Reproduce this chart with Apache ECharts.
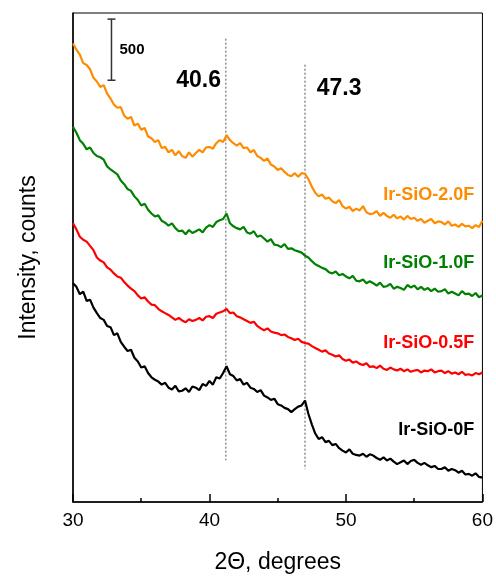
<!DOCTYPE html>
<html>
<head>
<meta charset="utf-8">
<script src="https://cdn.jsdelivr.net/npm/echarts@6/dist/echarts.min.js"></script>
<style>
  html, body { margin: 0; padding: 0; background: #fff; }
  #chart { width: 496px; height: 579px; }
</style>
</head>
<body>
<div id="chart"></div>
<script>
// XRD patterns of Ir-SiO samples, 2θ = 30–60°, sampled every 0.25°
const angleStart = 30;
const angleStep = 0.25;

const sampleNames = ['Ir-SiO-2.0F', 'Ir-SiO-1.0F', 'Ir-SiO-0.5F', 'Ir-SiO-0F'];

// Intensity (counts, stacked with vertical offsets)
const ir20F = [
  3750, 3700, 3660, 3590, 3575, 3540, 3470, 3440, 3395, 3410, 3340, 3300,
  3250, 3225, 3230, 3160, 3135, 3150, 3080, 3095, 3045, 3060, 2990, 2975,
  2945, 2960, 2895, 2905, 2860, 2880, 2835, 2870, 2830, 2815, 2860, 2825,
  2855, 2880, 2860, 2900, 2905, 2890, 2935, 2960, 2945, 3000, 2960, 2935,
  2915, 2935, 2895, 2900, 2860, 2880, 2830, 2815, 2790, 2810, 2760, 2745,
  2715, 2730, 2700, 2675, 2665, 2690, 2660, 2690, 2685, 2640, 2580, 2530,
  2500, 2515, 2480, 2490, 2460, 2445, 2470, 2420, 2400, 2415, 2380, 2400,
  2385, 2420, 2370, 2355, 2360, 2380, 2340, 2365, 2340, 2325, 2350, 2320,
  2335, 2310, 2340, 2315, 2325, 2300, 2315, 2285, 2300, 2315, 2280, 2295,
  2290, 2270, 2295, 2260, 2270, 2250, 2275, 2255, 2260, 2240, 2265, 2250,
  2300
];
const ir10F = [
  3070, 3020, 2960, 2930, 2885, 2900, 2855, 2830, 2820, 2800, 2745, 2720,
  2700, 2680, 2630, 2600, 2560, 2545, 2500, 2470, 2425, 2440, 2390, 2360,
  2335, 2345, 2300, 2285, 2260, 2280, 2240, 2215, 2220, 2190, 2225, 2200,
  2215, 2230, 2205, 2245, 2265, 2250, 2290, 2305, 2315, 2360, 2280, 2255,
  2240, 2230, 2250, 2205, 2195, 2215, 2170, 2180, 2155, 2130, 2150, 2105,
  2100, 2085, 2110, 2070, 2075, 2060, 2050, 2040, 2015, 2000, 1970, 1945,
  1930, 1915, 1905, 1880, 1870, 1885, 1855, 1865, 1845, 1830, 1850, 1810,
  1805, 1820, 1790, 1805, 1790, 1770, 1795, 1760, 1765, 1785, 1745, 1760,
  1750, 1735, 1775, 1755, 1770, 1740, 1760, 1735, 1750, 1725, 1745, 1720,
  1725, 1740, 1705, 1720, 1705, 1690, 1725, 1700, 1705, 1685, 1710, 1675,
  1690
];
const ir05F = [
  2280, 2230, 2170, 2145, 2130, 2095, 2060, 2000, 1975, 1960, 1920, 1900,
  1870, 1845, 1835, 1800, 1770, 1745, 1725, 1690, 1665, 1675, 1640, 1615,
  1610, 1580, 1560, 1545, 1530, 1510, 1490, 1505, 1485, 1470, 1495, 1480,
  1490, 1505, 1485, 1515, 1520, 1505, 1540, 1550, 1560, 1580, 1545, 1550,
  1520, 1510, 1495, 1480, 1465, 1475, 1440, 1420, 1405, 1420, 1395, 1385,
  1380, 1365, 1370, 1350, 1340, 1325, 1335, 1310, 1300, 1295, 1275, 1260,
  1245, 1230, 1240, 1215, 1205, 1190, 1200, 1170, 1155, 1165, 1140, 1150,
  1130, 1120, 1135, 1105, 1110, 1095, 1115, 1090, 1080, 1100, 1085, 1075,
  1090, 1070, 1085, 1065, 1075, 1080, 1060, 1075, 1070, 1085, 1060, 1070,
  1075, 1055, 1070, 1050, 1060, 1045, 1065, 1040, 1045, 1035, 1055, 1045,
  1060
];
const ir0F = [
  1790, 1760, 1700, 1720, 1645, 1655, 1590, 1545, 1505, 1490, 1440, 1430,
  1365, 1380, 1310, 1270, 1235, 1245, 1180, 1150, 1100, 1110, 1055, 1020,
  1000, 985, 960, 975, 935, 920, 950, 905, 910, 930, 900, 945,
  935, 915, 965, 950, 990, 960, 1020, 1010, 1055, 1110, 1045, 1030,
  995, 1005, 960, 975, 935, 925, 900, 915, 870, 855, 835, 845,
  800, 790, 770, 760, 735, 760, 780, 790, 830, 720, 635, 560,
  515, 530, 490, 500, 465, 475, 440, 420, 405, 430, 395, 385,
  380, 395, 370, 390, 380, 360, 345, 365, 340, 355, 330, 310,
  325, 340, 310, 335, 345, 320, 305, 320, 300, 285, 295, 270,
  270, 285, 255, 270, 260, 240, 255, 225, 230, 215, 235, 205,
  200
];

const sampleColors = ['#FF8C00', '#008000', '#FF0000', '#000000'];
const sampleSeries = [ir20F, ir10F, ir05F, ir0F];
// label anchors: [right edge 2θ, intensity]
const sampleLabelPos = [[59.4, 2512], [59.4, 1951], [59.4, 1301], [59.4, 585]];

// Reference lines: drawn position, span, and printed peak value
const peakLines = [
  { x: 41.2, top: 3790, bottom: 341, text: '40.6', textAt: [39.2, 3450] },
  { x: 47.0, top: 3577, bottom: 268, text: '47.3', textAt: [49.5, 3380] }
];

// 500-count scale bar
const scaleBar = { x: 32.82, top: 3950, size: 500 };

const yMax = 4000;

function toPairs(values) {
  return values.map((v, i) => [angleStart + i * angleStep, v]);
}

const series = sampleSeries.map((vals, i) => ({
  name: sampleNames[i],
  type: 'line',
  data: toPairs(vals),
  showSymbol: false,
  symbol: 'none',
  lineStyle: { color: sampleColors[i], width: 2.2 },
  z: 3,
  animation: false
}));

peakLines.forEach(p => {
  series.push({
    type: 'line',
    data: [[p.x, p.top], [p.x, p.bottom]],
    symbol: 'none',
    lineStyle: { color: '#555', width: 1, type: [2, 2] },
    z: 2,
    animation: false
  });
});

series.push({
  type: 'line',
  data: [[scaleBar.x, scaleBar.top], [scaleBar.x, scaleBar.top - scaleBar.size]],
  symbol: 'rect',
  symbolSize: [8, 1.5],
  showSymbol: true,
  itemStyle: { color: '#333' },
  lineStyle: { color: '#333', width: 1.5 },
  z: 4,
  animation: false
});

const chart = echarts.init(document.getElementById('chart'), null, { renderer: 'canvas' });

chart.setOption({
  animation: false,
  backgroundColor: '#fff',
  grid: {
    left: 73, right: 12, top: 13, bottom: 74,
    show: true, borderColor: '#000', borderWidth: 1, backgroundColor: 'transparent'
  },
  xAxis: {
    type: 'value',
    min: 30, max: 60, interval: 10,
    name: '2\u0398, degrees',
    nameLocation: 'middle',
    nameGap: 49,
    nameTextStyle: { fontFamily: 'Liberation Sans', fontSize: 23, color: '#000' },
    axisLine: { show: true, onZero: false, lineStyle: { color: '#000', width: 1.5 } },
    axisTick: { show: true, inside: true, length: 8, lineStyle: { color: '#000', width: 1.5 } },
    minorTick: { show: true, splitNumber: 2, length: 4, lineStyle: { color: '#000', width: 1.5 } },
    axisLabel: { fontFamily: 'Liberation Sans', fontSize: 19, color: '#000', margin: 9 },
    splitLine: { show: false }
  },
  yAxis: {
    type: 'value',
    min: 0, max: yMax,
    name: 'Intensity, counts',
    nameLocation: 'middle',
    nameGap: 33,
    nameTextStyle: { fontFamily: 'Liberation Sans', fontSize: 23, color: '#000' },
    axisLine: { show: true, onZero: false, lineStyle: { color: '#000', width: 1.5 } },
    axisTick: { show: false },
    axisLabel: { show: false },
    splitLine: { show: false }
  },
  series: series
});

// Text annotations placed through the axes' coordinate system
const graphics = [];
sampleNames.forEach((name, i) => {
  const pt = chart.convertToPixel({ gridIndex: 0 }, sampleLabelPos[i]);
  graphics.push({
    type: 'text', x: pt[0], y: pt[1], z: 10,
    style: {
      text: name, fill: sampleColors[i],
      font: 'bold 18px "Liberation Sans", Arial, sans-serif',
      align: 'right', verticalAlign: 'middle'
    }
  });
});
peakLines.forEach(p => {
  const pt = chart.convertToPixel({ gridIndex: 0 }, p.textAt);
  graphics.push({
    type: 'text', x: pt[0], y: pt[1], z: 10,
    style: {
      text: p.text, fill: '#000',
      font: 'bold 23px "Liberation Sans", Arial, sans-serif',
      align: 'center', verticalAlign: 'middle'
    }
  });
});
{
  const pt = chart.convertToPixel({ gridIndex: 0 }, [scaleBar.x, scaleBar.top - scaleBar.size / 2]);
  graphics.push({
    type: 'text', x: pt[0] + 8, y: pt[1], z: 10,
    style: {
      text: String(scaleBar.size), fill: '#000',
      font: 'bold 15px "Liberation Sans", Arial, sans-serif',
      align: 'left', verticalAlign: 'middle'
    }
  });
}
chart.setOption({ graphic: graphics });
</script>
</body>
</html>
